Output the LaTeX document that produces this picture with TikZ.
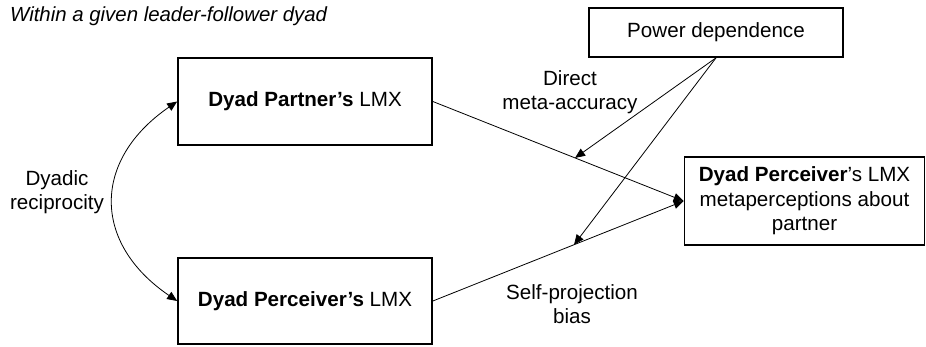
\documentclass[tikz,border=0pt]{standalone}
\usepackage{fontspec}
\setmainfont{Liberation Sans}
\usetikzlibrary{arrows.meta,calc}
\begin{document}
\begin{tikzpicture}[x=1pt,y=-1pt,
  every node/.style={font=\fontsize{20.6}{24.5}\selectfont},
  box/.style={draw,line width=1.7pt,inner sep=0pt,align=center},
  lbl/.style={align=center,inner sep=0pt},
  conn/.style={line width=0.8pt,-{Triangle[length=10pt,width=8.5pt]}},
  curv/.style={line width=0.8pt,{Triangle[length=10pt,width=8.5pt]}-{Triangle[length=10pt,width=8.5pt]}}]
\useasboundingbox (0,0) rectangle (926,346);
% title
\node[anchor=base west,inner sep=0pt,font=\fontsize{20.4}{24}\selectfont\itshape] (title) at (10,21) {Within a given leader-follower dyad};
% boxes
\node[box,minimum width=254pt,minimum height=87pt] (pa) at (305,101.5) {\textbf{Dyad Partner’s} LMX};
\node[box,minimum width=254pt,minimum height=86pt] (pv) at (305,301) {\textbf{Dyad Perceiver’s} LMX};
\node[box,minimum width=254pt,minimum height=49pt] (pd) at (716,32.5) {Power dependence};
\node[box,minimum width=240pt,minimum height=88pt] (mp) at (804.5,201) {\textbf{Dyad Perceiver}’s LMX\\metaperceptions about\\partner};
% labels
\node[lbl] (dr) at (57,192) {Dyadic\\reciprocity};
\node[lbl] (dm) at (570,92) {Direct\\meta-accuracy};
\node[lbl] (sp) at (572,304) {Self-projection\\bias};
% connectors
\draw[conn] (pa.east) -- (mp.west);
\draw[conn] (pv.east) -- (mp.west);
\coordinate (m1) at ($(pa.east)!0.567!(mp.west)$);
\coordinate (m2) at ($(pv.east)!0.563!(mp.west)$);
\draw[conn] (pd.south) -- (m1);
\draw[conn] (pd.south) -- (m2);
\draw[curv] (pa.west) .. controls (92,160) and (92,243) .. (pv.west);
\end{tikzpicture}
\end{document}
